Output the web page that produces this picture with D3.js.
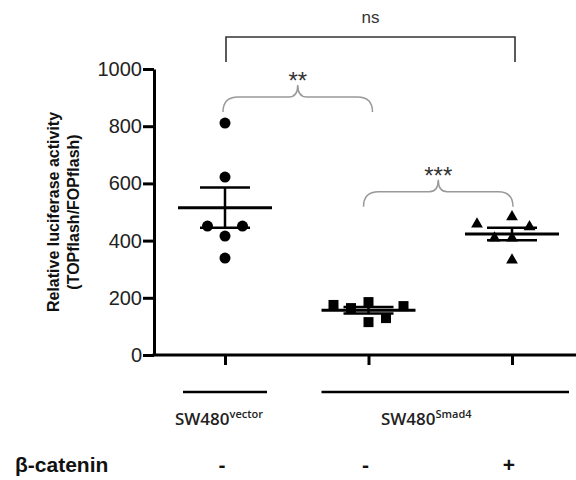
<!DOCTYPE html>
<html>
<head>
<meta charset="utf-8">
<script src="https://cdn.jsdelivr.net/npm/d3@7"></script>
<style>
  html, body { margin: 0; padding: 0; background: #fff; }
  svg { display: block; }
</style>
</head>
<body>
<svg id="chart" width="576" height="480"></svg>
<script>
// ---- data ----
const categories = ["SW480 vector", "SW480 Smad4", "SW480 Smad4 + β-catenin"];
const vectorValues = [811, 622, 416, 451, 451, 339];
const smad4Values = [185, 115, 164, 129, 175, 171];
const smad4BcatValues = [483, 409, 332, 409, 448, 458];
const yTicks = [0, 200, 400, 600, 800, 1000];
const betaCateninSigns = ["-", "-", "+"];
const cellLineBase = ["SW480", "SW480"];
const cellLineSup = ["vector", "Smad4"];
const sigLabels = ["**", "***", "ns"];

// ---- setup ----
const svg = d3.select("#chart");
const y = d3.scaleLinear().domain([0, 1000]).range([355, 69]);
const x = d3.scalePoint().domain(categories).range([225, 512]);
const axisX = 154;
const font = "'Liberation Sans', Arial, sans-serif";

// y axis
const yAxis = svg.append("g")
  .attr("transform", `translate(${axisX},0)`)
  .call(d3.axisLeft(y).tickValues(yTicks).tickFormat(d3.format("d"))
    .tickSize(11).tickSizeOuter(0).tickPadding(1));
yAxis.select(".domain").attr("stroke", "#000").attr("stroke-width", 3);
yAxis.selectAll(".tick line").attr("stroke", "#000").attr("stroke-width", 3);
yAxis.selectAll(".tick text").attr("font-family", font).attr("font-size", 20).attr("fill", "#222");

// x axis
const xAxis = svg.append("g")
  .attr("transform", `translate(0,${y(0)})`)
  .call(d3.axisBottom(x).tickSize(10).tickFormat(""));
xAxis.select(".domain").remove();
xAxis.selectAll(".tick line").attr("stroke", "#000").attr("stroke-width", 3);
svg.append("line")
  .attr("x1", axisX - 1.5).attr("x2", 576)
  .attr("y1", y(0)).attr("y2", y(0))
  .attr("stroke", "#000").attr("stroke-width", 3);

// y axis title
const title = svg.append("text")
  .attr("transform", `translate(0,${(y(0) + y(1000)) / 2}) rotate(-90)`)
  .attr("text-anchor", "middle")
  .attr("font-family", font).attr("font-weight", "bold").attr("font-size", 16).attr("fill", "#111");
title.append("tspan").attr("x", 0).attr("y", 59).text("Relative luciferase activity");
title.append("tspan").attr("x", 0).attr("y", 79).text("(TOPflash/FOPflash)");

// ---- beeswarm placement ----
const slotW = 17.5, collide = 15;
function swarm(values) {
  const placed = [];
  const order = [0, -1, 1, -2, 2, -3, 3];
  return values.map(v => {
    const py = y(v);
    for (const s of order) {
      if (!placed.some(p => p.s === s && Math.abs(p.py - py) < collide)) {
        placed.push({ s, py });
        return { v, s };
      }
    }
    return { v, s: 0 };
  });
}

const groups = [
  { cat: categories[0], values: vectorValues, shape: d3.symbolCircle, size: 95 },
  { cat: categories[1], values: smad4Values, shape: d3.symbolSquare, size: 100 },
  { cat: categories[2], values: smad4BcatValues, shape: d3.symbolTriangle, size: 60 }
];

groups.forEach(g => {
  const cx = x(g.cat);
  const pts = swarm(g.values);
  svg.append("g").selectAll("path").data(pts).join("path")
    .attr("d", d3.symbol().type(g.shape).size(g.size))
    .attr("transform", d => `translate(${cx + d.s * slotW},${y(d.v)})`)
    .attr("fill", "#000");
  const mean = d3.mean(g.values);
  const sem = d3.deviation(g.values) / Math.sqrt(g.values.length);
  const gl = svg.append("g").attr("stroke", "#000");
  gl.append("line").attr("x1", cx - 47).attr("x2", cx + 47)
    .attr("y1", y(mean)).attr("y2", y(mean)).attr("stroke-width", 3);
  [mean - sem, mean + sem].forEach(v => {
    gl.append("line").attr("x1", cx - 25).attr("x2", cx + 25)
      .attr("y1", y(v)).attr("y2", y(v)).attr("stroke-width", 2.5);
  });
  gl.append("line").attr("x1", cx).attr("x2", cx)
    .attr("y1", y(mean - sem)).attr("y2", y(mean + sem)).attr("stroke-width", 2.5);
});

// ---- significance braces ----
function brace(x1, x2, yb, yh, yt) {
  const xm = (x1 + x2) / 2, r = 15, r2 = 9;
  return `M${x1},${yb} Q${x1},${yh} ${x1 + r},${yh} L${xm - r2},${yh} Q${xm},${yh} ${xm},${yt}` +
         ` Q${xm},${yh} ${xm + r2},${yh} L${x2 - r},${yh} Q${x2},${yh} ${x2},${yb}`;
}
const braces = [
  { x1: x(categories[0]) - 2, x2: x(categories[1]) + 4, yb: y(850), label: sigLabels[0] },
  { x1: x(categories[1]) - 5, x2: x(categories[2]) + 1, yb: y(518), label: sigLabels[1] }
];
braces.forEach(b => {
  svg.append("path").attr("d", brace(b.x1, b.x2, b.yb, b.yb - 15, b.yb - 27))
    .attr("fill", "none").attr("stroke", "#999").attr("stroke-width", 1.5);
  svg.append("text").attr("x", (b.x1 + b.x2) / 2).attr("y", b.yb - 23)
    .attr("text-anchor", "middle").attr("font-family", font).attr("font-size", 24)
    .attr("fill", "#333").text(b.label);
});

// ns bracket
const nx1 = x(categories[0]) + 1, nx2 = x(categories[2]) + 3;
svg.append("path").attr("d", `M${nx1},62 L${nx1},37 L${nx2},37 L${nx2},62`)
  .attr("fill", "none").attr("stroke", "#333").attr("stroke-width", 1.6);
svg.append("text").attr("x", (nx1 + nx2) / 2).attr("y", 23)
  .attr("text-anchor", "middle").attr("font-family", font).attr("font-size", 17)
  .attr("fill", "#333").text(sigLabels[2]);

// ---- group labels ----
const underlines = [
  { x1: x(categories[0]) - 42, x2: x(categories[0]) + 42 },
  { x1: x(categories[1]) - 47, x2: x(categories[2]) + 57 }
];
underlines.forEach(u => {
  svg.append("line").attr("x1", u.x1).attr("x2", u.x2).attr("y1", 392).attr("y2", 392)
    .attr("stroke", "#000").attr("stroke-width", 2.5);
});
const labelCenters = [x(categories[0]) - 6, (x(categories[1]) + x(categories[2])) / 2 - 14];
labelCenters.forEach((cx, i) => {
  const t = svg.append("text").attr("x", cx).attr("y", 425).attr("text-anchor", "middle")
    .attr("font-family", "'Open Sans', sans-serif").attr("font-weight", 600)
    .attr("font-size", 17).attr("fill", "#222");
  t.append("tspan").text(cellLineBase[i]);
  t.append("tspan").attr("dy", -7).attr("font-size", 11).text(cellLineSup[i]);
});

// β-catenin row
svg.append("text").attr("x", 15).attr("y", 472)
  .attr("font-family", font).attr("font-weight", "bold").attr("font-size", 21)
  .attr("fill", "#111").text("β-catenin");
svg.append("g").selectAll("text").data(categories).join("text")
  .attr("x", d => x(d) - 3).attr("y", 472).attr("text-anchor", "middle")
  .attr("font-family", font).attr("font-weight", "bold").attr("font-size", 21)
  .attr("fill", "#111").text((d, i) => betaCateninSigns[i]);
</script>
</body>
</html>
